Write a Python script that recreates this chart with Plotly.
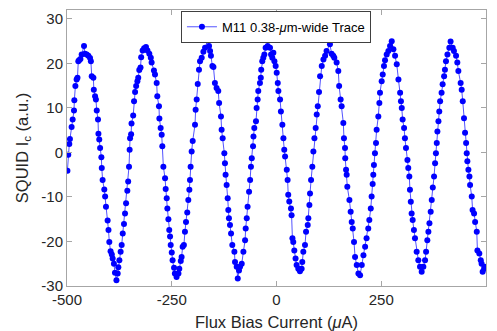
import plotly.graph_objects as go

# Flux bias current (uA) and SQUID Ic (a.u.)
flux_bias_ua = [
    -499, -497, -494.5, -493, -489, -486.5, -483.3, -482.5, -480, -477,
    -475, -473, -471, -468, -465, -459.4, -457, -453, -449, -445,
    -443, -441, -437, -436, -433, -431, -429, -426, -425, -423,
    -421, -418, -417, -415, -411, -409, -407, -403, -401, -399,
    -396, -393, -391, -388, -385.5, -382, -379, -377.5, -375, -372,
    -369.5, -367, -364, -361.5, -359, -356, -354, -352, -350.5, -349.5,
    -347, -346, -342, -340, -337.5, -335, -332, -330, -327.5, -324.5,
    -323, -319.5, -316, -311.5, -308, -303.5, -300, -298, -292.5, -290,
    -286, -284.5, -280.5, -279.5, -276.5, -274, -272.5, -270, -266, -264.5,
    -262, -260.5, -258, -256, -254, -252.5, -250, -248, -244.5, -242.5,
    -238.5, -234, -232, -228.5, -226.5, -224, -221, -218.5, -216, -213,
    -210.5, -208, -206.5, -205, -202.5, -200,
    -194.5, -193, -190.5, -188, -185, -182.5, -178.5, -174.5, -170.5, -164.5,
    -161, -158.5, -156.5, -153, -150.5, -147, -143, -139, -137, -132.5,
    -131, -128.5, -124.5, -123, -121.5, -119, -116.5, -115, -113.5, -111,
    -108.5, -105.5, -100.5, -99, -95, -92.5, -89.5, -87, -83, -79,
    -75, -73.5, -71, -69, -65.5, -63, -61, -59, -56, -55,
    -53, -49, -47.5, -45, -43.5, -39.5, -37.5, -36.5, -34, -31.5,
    -29, -26, -21, -15.5, -13, -10, -7.5, -5, -2, 0.5,
    3, 4.5, 8.5, 10.5, 14, 16.5, 18.5, 20.5, 24.5, 26.5,
    28, 30.5, 34.5, 36, 38, 40, 42.5, 45.5, 48, 52,
    56, 60, 61.5, 64, 68, 70.5, 74.5, 76, 78.5, 80,
    82.5, 85.5, 88, 90.5, 93.5, 96, 98.5, 101.5, 104, 108,
    112, 116, 119.5, 127.5, 131.5, 135.5, 138, 143.5, 147.5, 149.5,
    153, 155.5, 159.5, 161, 163.5, 164, 166, 167.5, 169, 174,
    177, 179.5, 182, 185, 187.5, 191.5, 195.5, 199.5, 203.5, 207.5,
    211.5, 215, 219, 221.5, 225, 227, 229.5, 231, 232.5, 235,
    237.5, 239, 243, 245.5, 247, 251, 253.5, 256.5, 259, 263,
    267, 271, 275, 279, 283, 287, 291, 295, 297, 299,
    301, 304.5, 306.5, 309, 312.5, 314.5, 317, 318.5, 320.5, 322.5,
    325, 328, 330.5, 334.5, 338.5, 342.5, 346.5, 350.5, 354.5, 357,
    360, 362.5, 365, 368, 370.5, 373, 376, 378.5, 380.5, 382.5,
    384, 386.5, 388.5, 390.5, 394, 396.5, 400, 402, 404.5, 408,
    412.5, 415.5, 420.5, 423.5, 428.5, 431.5, 434, 439.5, 442, 444.5,
    447.5, 450, 452.5, 454, 455.5, 458, 460.5, 462, 466, 468,
    471.5, 474, 478, 479.5, 484, 487.5, 489.5, 492, 495.5, 497.5,
]

squid_ic = [
    -4.1, -0.5, 1.9, 3.0, 5.7, 7.4, 9.4, 11.7, 14.9, 16.4,
    16.8, 20.5, 20.7, 21.0, 22.0, 23.9, 22.2, 22.0, 21.7, 21.2,
    20.5, 17.1, 16.8, 14.1, 12.6, 11.9, 9.4, 7.4, 4.2, 2.9,
    1.0, -1.1, -3.5, -6.2, -8.3, -9.9, -12.2, -15.3, -17.4, -20.1,
    -22.2, -22.9, -23.8, -25.0, -27.0, -28.7, -27.2, -25.8, -24.2, -22.3,
    -20.8, -18.2, -16.1, -13.7, -11.4, -8.6, -6.5, -3.2, 0.6, 3.2,
    4.1, 6.5, 8.3, 11.5, 13.6, 14.9, 16.0, 16.8, 18.5, 19.1,
    21.4, 22.9, 23.4, 23.7, 22.9, 22.2, 21.3, 20.2, 18.4, 17.5,
    15.6, 12.6, 10.4, 7.6, 5.5, 4.0, 1.4, -3.2, -5.8, -8.2,
    -10.3, -12.6, -15.0, -17.4, -18.9, -20.8, -22.5, -24.2, -25.9, -27.2,
    -28.0, -27.2, -26.1, -24.4, -23.5, -21.2, -20.8, -17.8, -15.6, -13.5,
    -10.7, -8.4, -6.2, -3.2, 0.2, 2.6,
    6.2, 9.6, 11.9, 15.4, 18.6, 20.5, 21.3, 22.6, 23.5, 25.2,
    23.9, 22.8, 21.7, 19.4, 19.2, 15.6, 14.5, 13.8, 11.1, 8.1,
    5.1, 3.2, -0.2, -2.4, -5.0, -7.3, -10.3, -12.9, -14.8, -16.3,
    -18.2, -20.8, -22.3, -24.6, -25.7, -28.3, -26.5, -25.7, -25.0, -22.3,
    -19.7, -17.1, -14.8, -12.2, -8.8, -6.2, -3.2, -1.3, 1.4, 3.6,
    5.5, 7.0, 10.0, 11.9, 13.8, 15.6, 16.8, 18.6, 20.5, 21.3,
    22.0, 23.5, 23.9, 23.5, 22.0, 21.3, 22.4, 20.5, 19.4, 17.9,
    15.6, 13.8, 11.9, 9.2, 6.2, 3.2, 0.6, -0.9, -3.9, -6.2,
    -9.5, -11.0, -12.6, -14.1, -19.3, -20.1, -22.0, -23.8, -25.3, -26.1,
    -26.7, -26.1, -24.6, -22.3, -20.8, -17.8, -16.3, -14.8, -11.8, -9.2,
    -6.2, -3.2, 0.2, 3.2, 5.5, 8.5, 10.4, 13.6, 17.1, 19.4,
    20.9, 21.7, 22.8, 24.3, 22.2, 21.7, 21.3, 20.2, 18.3, 14.9,
    11.9, 10.4, 6.6, 3.2, 1.0, -1.3, -3.9, -5.0, -7.7, -10.7,
    -13.3, -15.6, -17.1, -20.1, -23.5, -25.3, -27.2, -27.6, -25.3, -23.1,
    -21.2, -19.3, -17.1, -15.2, -12.6, -9.9, -7.1, -5.0, -2.8, -0.2,
    2.1, 5.1, 8.1, 11.1, 13.4, 16.0, 17.5, 19.4, 20.7, 22.0,
    22.8, 23.9, 25.0, 23.2, 21.7, 19.8, 16.4, 13.4, 11.5, 10.0,
    7.4, 5.5, 3.2, 1.0, -1.7, -3.5, -5.4, -8.4, -11.1, -13.7,
    -15.2, -17.4, -19.3, -22.3, -24.2, -25.7, -26.8, -25.7, -24.2, -22.3,
    -19.7, -17.8, -15.9, -13.3, -10.7, -7.9, -5.4, -2.4, -0.2, 2.1,
    4.7, 7.0, 9.2, 11.5, 13.4, 15.3, 17.1, 18.6, 20.5, 22.0,
    23.5, 24.9, 23.5, 22.8, 21.7, 20.2, 18.3, 15.6, 14.1, 11.5,
    7.7, 4.4, 2.1, -0.2, -2.0, -3.9, -5.4, -7.3, -9.9, -12.9,
    -13.7, -15.6, -17.8, -22.0, -22.7, -24.2, -25.0, -26.8, -26.1, -25.7,
]

x_ticks = [-500, -250, 0, 250, 500]
y_ticks = [-30, -20, -10, 0, 10, 20, 30]
series_name = "M11 0.38-<i>μ</i>m-wide Trace"

FONT = "Arial, Liberation Sans, Helvetica, sans-serif"
AX = "#a6a6a6"
TXT = "#262626"

fig = go.Figure()
fig.add_trace(go.Scatter(
    x=flux_bias_ua, y=squid_ic, mode="lines+markers", name=series_name,
    line=dict(color="rgba(40,40,255,0.8)", width=1),
    marker=dict(color="#0000ff", size=6, line=dict(width=0)),
    showlegend=True,
))

axis_common = dict(
    showline=True, linecolor=AX, linewidth=1, mirror="ticks",
    ticks="inside", ticklen=5, tickcolor=AX, tickwidth=1,
    showgrid=False, zeroline=False,
    tickfont=dict(family=FONT, size=15, color=TXT),
)

fig.update_xaxes(range=[-500, 500], tickvals=x_ticks, ticktext=[str(v) for v in x_ticks],
                 title=dict(text="Flux Bias Current (<i>μ</i>A)",
                            font=dict(family=FONT, size=16.5, color=TXT), standoff=11),
                 **axis_common)
fig.update_yaxes(range=[-30, 32], tickvals=y_ticks, ticktext=[str(v) for v in y_ticks],
                 title=dict(text="SQUID I<sub>c</sub> (a.u.)",
                            font=dict(family=FONT, size=16.5, color=TXT), standoff=8),
                 **axis_common)

# page has an 8px body margin; figure is sized to fit inside the 497x331 window
fig.update_layout(
    width=489, height=323,
    margin=dict(l=59, r=11, t=2, b=45, autoexpand=False),
    plot_bgcolor="white", paper_bgcolor="white",
    font=dict(family=FONT, color=TXT),
    legend=dict(x=0.272, y=0.997, xanchor="left", yanchor="top",
                bgcolor="white", bordercolor="#404040", borderwidth=1,
                font=dict(family=FONT, size=13, color="#000000"),
                itemwidth=30, tracegroupgap=0),
)

fig.write_html("out.html")
